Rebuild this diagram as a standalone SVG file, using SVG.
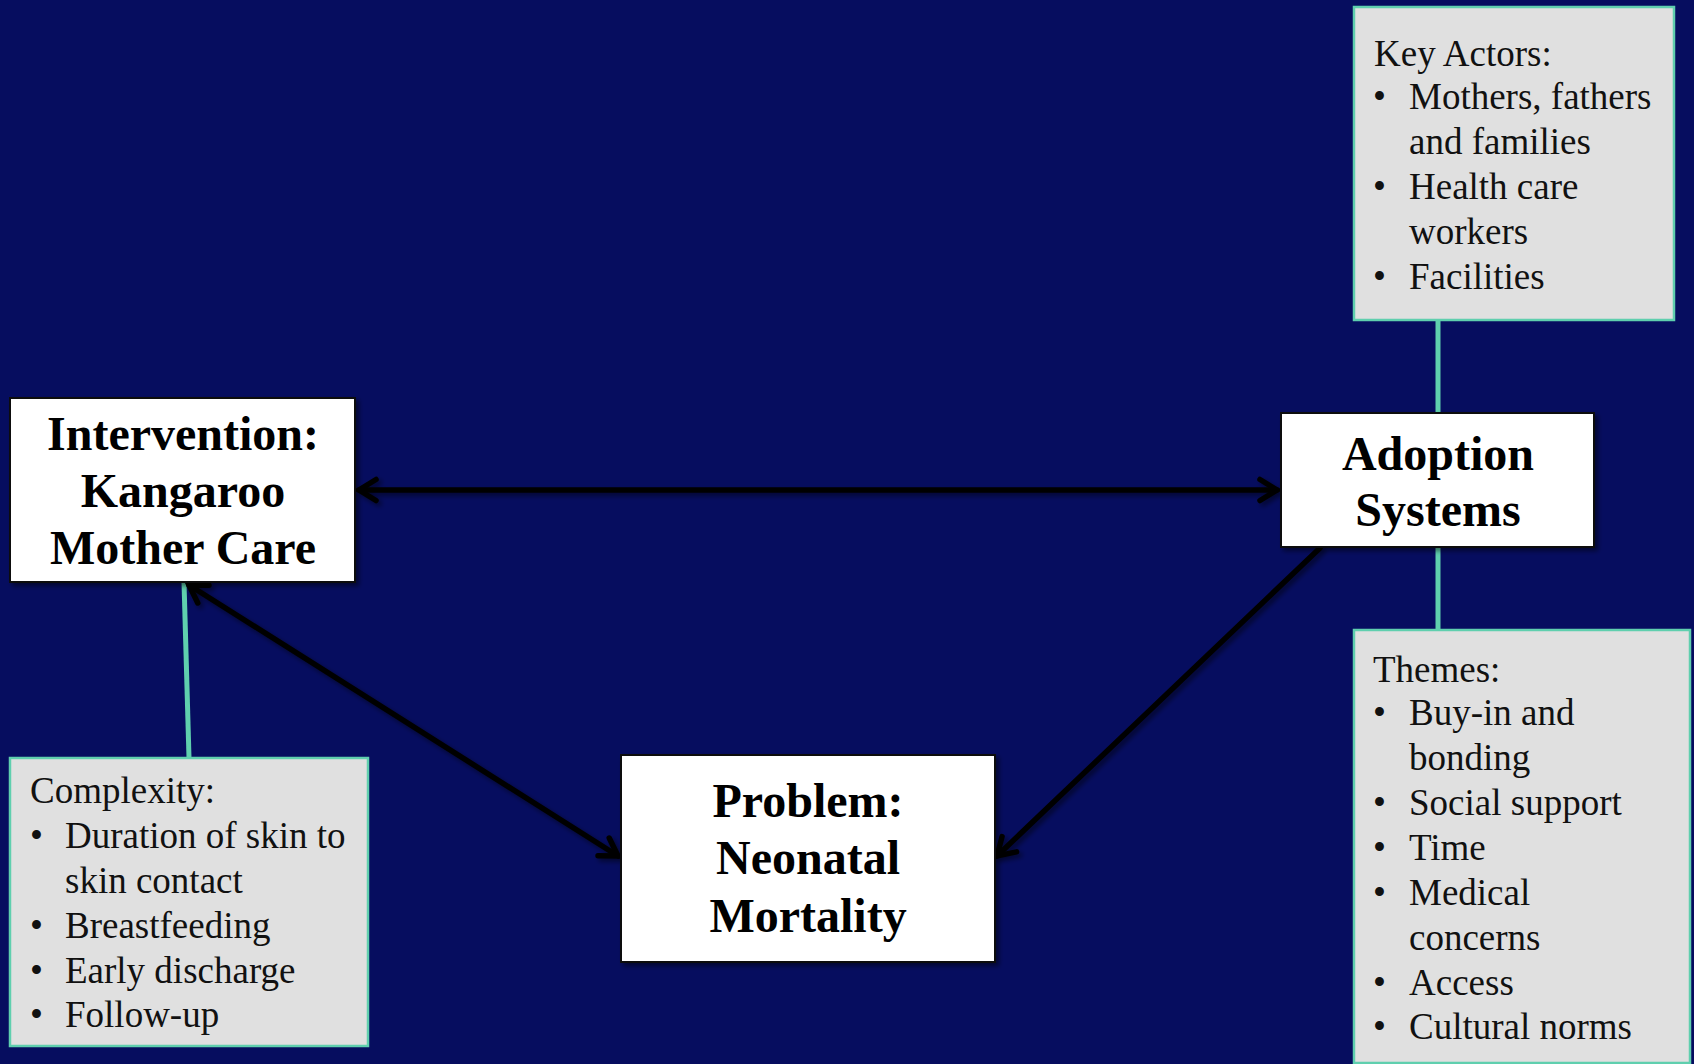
<svg xmlns="http://www.w3.org/2000/svg" width="1694" height="1064" viewBox="0 0 1694 1064">
<defs>
<style>
.bg{fill:#060d5f}
.node{fill:#ffffff;stroke:#111111;stroke-width:2}
.note{fill:#e0e0e0;stroke:#5fcfae;stroke-width:2.5}
.title{font-family:"Liberation Serif","Times New Roman",serif;font-weight:bold;font-size:48px;fill:#000000;text-anchor:middle}
.txt{font-family:"Liberation Serif","Times New Roman",serif;font-size:37px;fill:#111111}
.link{stroke:#5fcfae;stroke-width:5;fill:none}
.arrow{stroke:#000000;stroke-width:5.5;fill:none;stroke-linecap:round}
</style>
<marker id="ah" viewBox="0 0 28 28" refX="24" refY="14" markerWidth="28" markerHeight="28" markerUnits="userSpaceOnUse" orient="auto-start-reverse">
<path d="M7,3.5 L24,14 L7,24.5" fill="none" stroke="#000000" stroke-width="5.5" stroke-linecap="round" stroke-linejoin="miter"/>
</marker>
<filter id="sh" x="-10%" y="-10%" width="130%" height="130%">
<feGaussianBlur in="SourceAlpha" stdDeviation="2.5"/>
<feOffset dx="3" dy="3" result="b"/>
<feComponentTransfer><feFuncA type="linear" slope="0.5"/></feComponentTransfer>
<feMerge><feMergeNode/><feMergeNode in="SourceGraphic"/></feMerge>
</filter>
</defs>
<rect class="bg" x="0" y="0" width="1694" height="1064"/>

<g id="connectors">
<line class="link" x1="1438" y1="320" x2="1438" y2="413"/>
<line class="link" x1="1438" y1="547" x2="1438" y2="630"/>
<line class="link" x1="184" y1="582" x2="189" y2="758"/>
<g filter="url(#sh)">
<line class="arrow" x1="359" y1="490" x2="1277" y2="490" marker-start="url(#ah)" marker-end="url(#ah)"/>
<line class="arrow" x1="189" y1="585" x2="618" y2="856" marker-start="url(#ah)" marker-end="url(#ah)"/>
<line class="arrow" x1="1320" y1="548" x2="997" y2="856" marker-end="url(#ah)"/>
</g>
</g>

<g id="intervention">
<rect class="node" x="10" y="398" width="345" height="184" filter="url(#sh)"/>
<text class="title" x="183" y="450">Intervention:</text>
<text class="title" x="183" y="507">Kangaroo</text>
<text class="title" x="183" y="564">Mother Care</text>
</g>

<g id="adoption">
<rect class="node" x="1281" y="413" width="313" height="134" filter="url(#sh)"/>
<text class="title" x="1438" y="470">Adoption</text>
<text class="title" x="1438" y="526">Systems</text>
</g>

<g id="problem">
<rect class="node" x="621" y="755" width="374" height="207" filter="url(#sh)"/>
<text class="title" x="808" y="817">Problem:</text>
<text class="title" x="808" y="874">Neonatal</text>
<text class="title" x="808" y="932">Mortality</text>
</g>

<g id="key-actors">
<rect class="note" x="1354" y="7" width="320" height="313"/>
<text class="txt" x="1374" y="66">Key Actors:</text>
<text class="txt" x="1373" y="109">•</text><text class="txt" x="1409" y="109">Mothers, fathers</text>
<text class="txt" x="1409" y="154">and families</text>
<text class="txt" x="1373" y="199">•</text><text class="txt" x="1409" y="199">Health care</text>
<text class="txt" x="1409" y="244">workers</text>
<text class="txt" x="1373" y="289">•</text><text class="txt" x="1409" y="289">Facilities</text>
</g>

<g id="themes">
<rect class="note" x="1354" y="630" width="336" height="433"/>
<text class="txt" x="1373" y="682">Themes:</text>
<text class="txt" x="1373" y="725">•</text><text class="txt" x="1409" y="725">Buy-in and</text>
<text class="txt" x="1409" y="770">bonding</text>
<text class="txt" x="1373" y="815">•</text><text class="txt" x="1409" y="815">Social support</text>
<text class="txt" x="1373" y="860">•</text><text class="txt" x="1409" y="860">Time</text>
<text class="txt" x="1373" y="905">•</text><text class="txt" x="1409" y="905">Medical</text>
<text class="txt" x="1409" y="950">concerns</text>
<text class="txt" x="1373" y="995">•</text><text class="txt" x="1409" y="995">Access</text>
<text class="txt" x="1373" y="1039">•</text><text class="txt" x="1409" y="1039">Cultural norms</text>
</g>

<g id="complexity">
<rect class="note" x="10" y="758" width="358" height="288"/>
<text class="txt" x="30" y="803">Complexity:</text>
<text class="txt" x="30" y="848">•</text><text class="txt" x="65" y="848">Duration of skin to</text>
<text class="txt" x="65" y="893">skin contact</text>
<text class="txt" x="30" y="938">•</text><text class="txt" x="65" y="938">Breastfeeding</text>
<text class="txt" x="30" y="983">•</text><text class="txt" x="65" y="983">Early discharge</text>
<text class="txt" x="30" y="1027">•</text><text class="txt" x="65" y="1027">Follow-up</text>
</g>
</svg>
